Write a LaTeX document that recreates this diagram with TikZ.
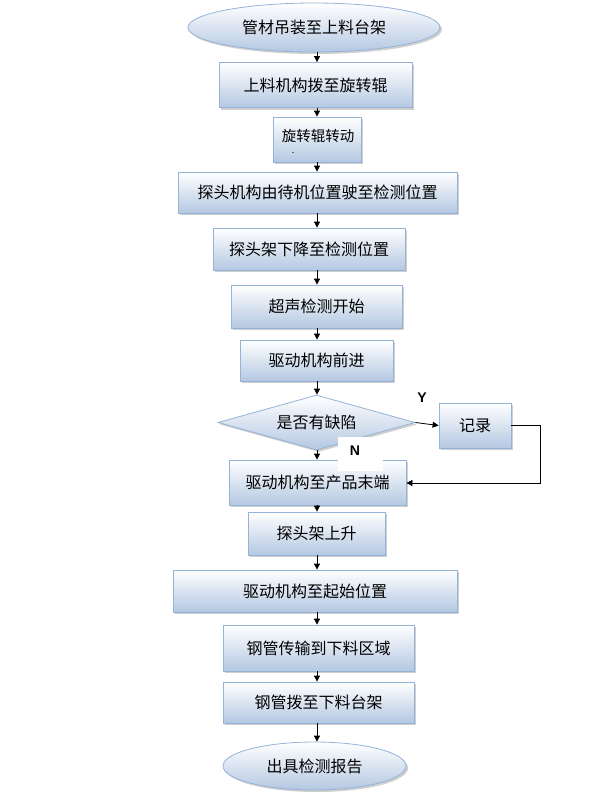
\documentclass[tikz,border=0pt]{standalone}
\usepackage{fontspec}
\setmainfont{Noto Sans CJK SC}
\newfontfamily\latinb{Liberation Sans}
\usetikzlibrary{shapes.geometric,arrows.meta,shadows}
\definecolor{bord}{HTML}{95B3D7}
\definecolor{fillb}{HTML}{B4C8E2}
\tikzset{
  box/.style={draw=bord, line width=0.8pt, top color=white, bottom color=fillb, inner sep=0pt,
    drop shadow={shadow xshift=2pt, shadow yshift=-2pt, fill=gray!75}, font=\fontsize{16}{17}\selectfont},
  ell/.style={box, ellipse},
  dec/.style={box, diamond},
  arr/.style={-{Triangle[length=6pt,width=6pt]}, line width=0.8pt, black},
  lbl/.style={font=\latinb\bfseries\fontsize{14}{14}\selectfont, inner sep=0pt}
}
\begin{document}
\begin{tikzpicture}[x=1pt,y=-1pt]
\useasboundingbox (0,0) rectangle (599,809);
\coordinate (axis) at (317,0);
\node[ell, minimum width=252pt, minimum height=49pt] (b1) at (314,27.5) {管材吊装至上料台架};
\node[box, minimum width=193pt, minimum height=45pt] (b2) at (315.5,85) {上料机构拨至旋转辊};
\node[box, minimum width=88pt, minimum height=45pt] (b3) at (317,139.5) {};
\node[font=\fontsize{14.5}{15}\selectfont, inner sep=0pt] (b3t) at (318,136) {旋转辊转动};
\node[font=\fontsize{9}{9}\selectfont, inner sep=0pt] (b3d) at (293,153) {.};
\node[box, minimum width=279pt, minimum height=41pt] (b4) at (317.5,192.5) {探头机构由待机位置驶至检测位置};
\node[box, minimum width=192pt, minimum height=42pt] (b5) at (309,249) {探头架下降至检测位置};
\node[box, minimum width=171pt, minimum height=43pt] (b6) at (316.5,306.5) {超声检测开始};
\node[box, minimum width=153pt, minimum height=41pt] (b7) at (316.5,360.5) {驱动机构前进};
\node[dec, aspect=3.58, minimum width=197pt, minimum height=55pt] (d) at (316.5,422.5) {是否有缺陷};
\node[box, minimum width=72pt, minimum height=45pt] (r) at (475,425.5) {记录};
\node[box, minimum width=177pt, minimum height=45pt] (b10) at (317.5,482.5) {驱动机构至产品末端};
\node[box, minimum width=137pt, minimum height=43pt] (b11) at (316.5,533.5) {探头架上升};
\node[box, minimum width=284pt, minimum height=42pt] (b12) at (315,591) {驱动机构至起始位置};
\node[box, minimum width=191pt, minimum height=46pt] (b13) at (318.5,648) {钢管传输到下料区域};
\node[box, minimum width=191pt, minimum height=41pt] (b14) at (318.5,702.5) {钢管拨至下料台架};
\node[ell, minimum width=183pt, minimum height=48pt] (e2) at (314.5,766) {出具检测报告};
% connectors
\draw[arr] (b1.south -| axis) -- (b2.north -| axis);
\draw[arr] (b2.south -| axis) -- (b3.north -| axis);
\draw[arr] (b3.south -| axis) -- (b4.north -| axis);
\draw[arr] (b4.south -| axis) -- (b5.north -| axis);
\draw[arr] (b5.south -| axis) -- (b6.north -| axis);
\draw[arr] (b6.south -| axis) -- (b7.north -| axis);
\draw[arr] (b7.south -| axis) -- (d.north -| axis);
\draw[arr] (d.south -| axis) -- (b10.north -| axis);
\draw[arr] (d.east) -- (r.west);
\coordinate (loopc) at (540,483);
\draw[arr] (r.east) -| (loopc) -- (loopc -| b10.east);
\draw[arr] (b10.south -| axis) -- (b11.north -| axis);
\draw[arr] (b11.south -| axis) -- (b12.north -| axis);
\draw[arr] (b12.south -| axis) -- (b13.north -| axis);
\draw[arr] (b13.south -| axis) -- (b14.north -| axis);
\draw[arr] (b14.south -| axis) -- (e2.north -| axis);
% labels
\node[lbl] (ly) at (422,398) {Y};
\fill[white] (338,437) rectangle (383,471);
\node[lbl] (ln) at (355,451) {N};
\end{tikzpicture}
\end{document}
